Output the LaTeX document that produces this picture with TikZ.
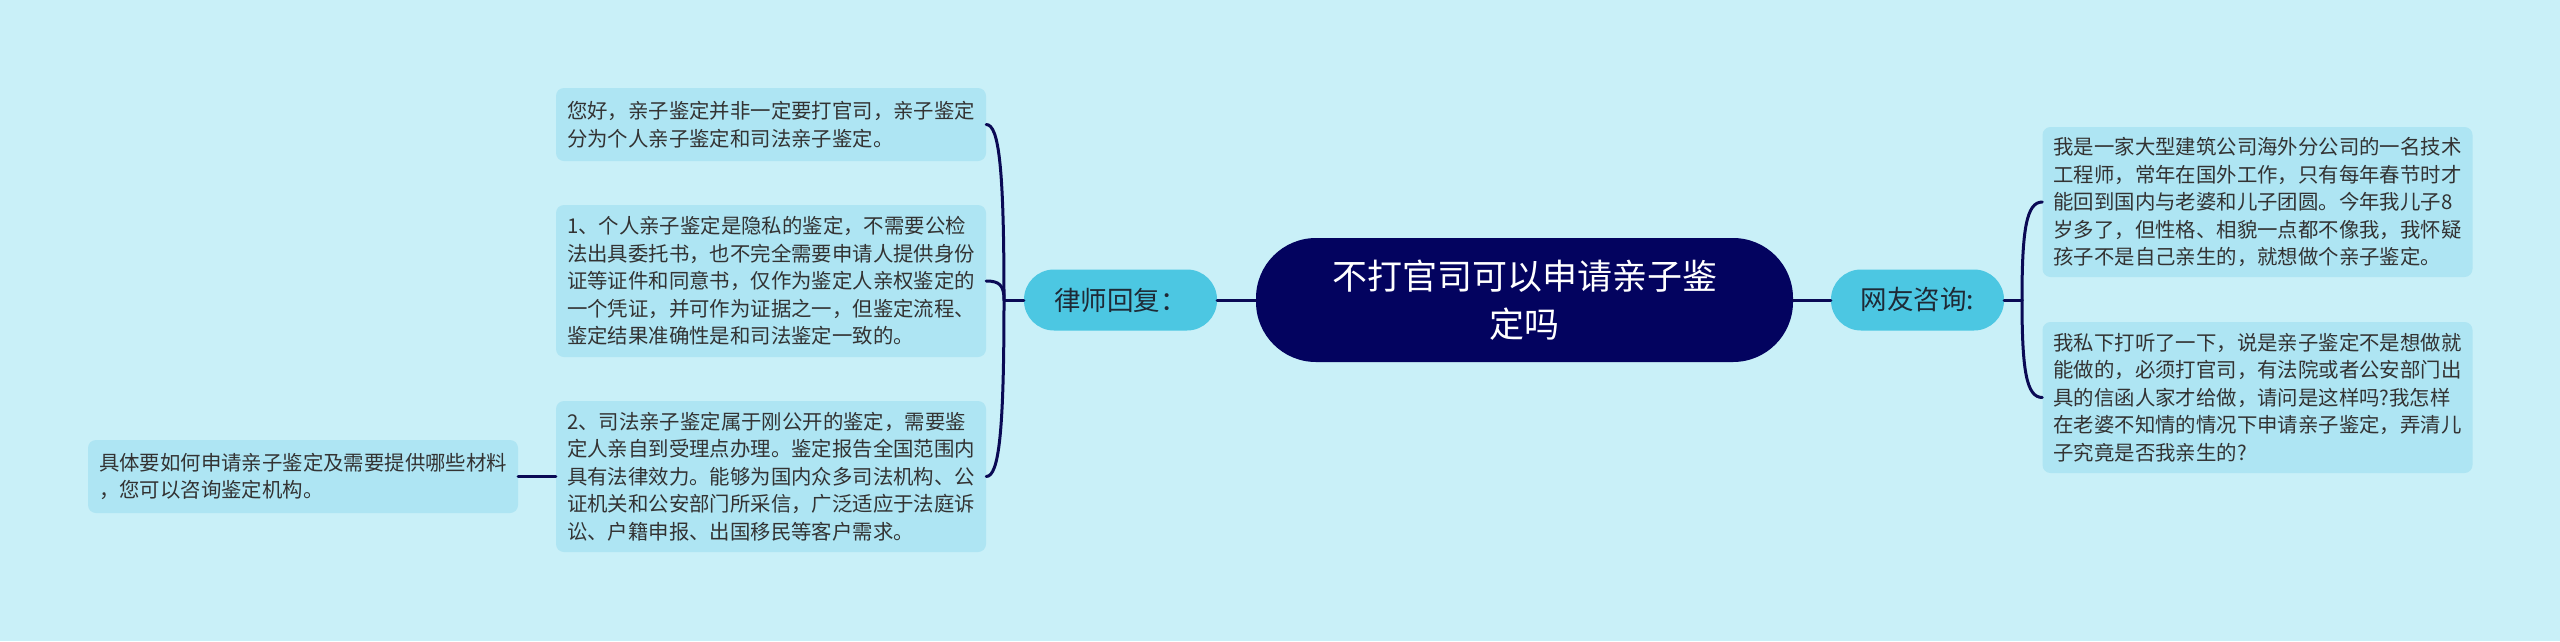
\documentclass[tikz,border=0pt]{standalone}
\usepackage{fontspec}
\newfontfamily\cjk{Noto Sans CJK SC}
\definecolor{bgc}{HTML}{C9F0F8}
\definecolor{leafc}{HTML}{AEE5F3}
\definecolor{lvlc}{HTML}{4CC7E2}
\definecolor{rootc}{HTML}{03035F}
\definecolor{linec}{HTML}{0A0A55}
\definecolor{leaftxt}{HTML}{333333}
\definecolor{lvltxt}{HTML}{1E2A36}
\begin{document}
\begin{tikzpicture}[x=1pt,y=-1pt,
  leaf/.style={fill=leafc, rounded corners=8pt, text width=408pt, inner xsep=11pt, inner ysep=0pt,
    align=left, font=\cjk\fontsize{20.4}{27.5}\selectfont, text=leaftxt},
  lvl/.style={fill=lvlc, rounded corners=30pt, minimum height=61pt, inner sep=0pt,
    font=\cjk\fontsize{26.5}{30}\selectfont, text=lvltxt},
  rootbox/.style={fill=rootc, rounded corners=60pt, minimum width=537pt, minimum height=124pt,
    inner sep=0pt, align=center, font=\cjk\fontsize{35}{48}\selectfont, text=white},
  conn/.style={draw=linec, line width=3pt, line cap=round}]
\fill[bgc] (0,0) rectangle (2560,641);
\useasboundingbox (0,0) rectangle (2560,641);

\node[rootbox] (root) at (1524.5,300) {不打官司可以申请亲子鉴\\定吗};
\node[lvl, minimum width=193pt] (L) at (1120.5,300) {律师回复：};
\node[lvl, minimum width=173pt] (R) at (1917.5,300) {网友咨询:};

\node[leaf, minimum height=73pt] (b1) at (771,124.5) {您好，亲子鉴定并非一定要打官司，亲子鉴定\\分为个人亲子鉴定和司法亲子鉴定。};
\node[leaf, minimum height=152pt] (b2) at (771,281) {1、个人亲子鉴定是隐私的鉴定，不需要公检\\法出具委托书，也不完全需要申请人提供身份\\证等证件和同意书，仅作为鉴定人亲权鉴定的\\一个凭证，并可作为证据之一，但鉴定流程、\\鉴定结果准确性是和司法鉴定一致的。};
\node[leaf, minimum height=151pt] (b3) at (771,476.5) {2、司法亲子鉴定属于刚公开的鉴定，需要鉴\\定人亲自到受理点办理。鉴定报告全国范围内\\具有法律效力。能够为国内众多司法机构、公\\证机关和公安部门所采信，广泛适应于法庭诉\\讼、户籍申报、出国移民等客户需求。};
\node[leaf, minimum height=73pt] (b4) at (303,476.5) {具体要如何申请亲子鉴定及需要提供哪些材料\\，您可以咨询鉴定机构。};
\node[leaf, minimum height=150pt] (b5) at (2257.5,202) {我是一家大型建筑公司海外分公司的一名技术\\工程师，常年在国外工作，只有每年春节时才\\能回到国内与老婆和儿子团圆。今年我儿子8\\岁多了，但性格、相貌一点都不像我，我怀疑\\孩子不是自己亲生的，就想做个亲子鉴定。};
\node[leaf, minimum height=151pt] (b6) at (2257.5,397.5) {我私下打听了一下，说是亲子鉴定不是想做就\\能做的，必须打官司，有法院或者公安部门出\\具的信函人家才给做，请问是这样吗?我怎样\\在老婆不知情的情况下申请亲子鉴定，弄清儿\\子究竟是否我亲生的?};

\coordinate (bl) at (1004,300);
\coordinate (br) at (2022,300);

\draw[conn] (root.west) -- (L.east);
\draw[conn] (L.west) -- (bl);
\draw[conn] (bl) .. controls +(0,-130) and +(13,0) .. (b1.east);
\draw[conn] (bl) .. controls +(0,-15) and +(13,0) .. (b2.east);
\draw[conn] (bl) .. controls +(0,130) and +(13,0) .. (b3.east);
\draw[conn] (b3.west) -- (b4.east);
\draw[conn] (root.east) -- (R.west);
\draw[conn] (R.east) -- (br);
\draw[conn] (br) .. controls +(0,-70) and +(-16,0) .. (b5.west);
\draw[conn] (br) .. controls +(0,70) and +(-16,0) .. (b6.west);
\end{tikzpicture}
\end{document}
